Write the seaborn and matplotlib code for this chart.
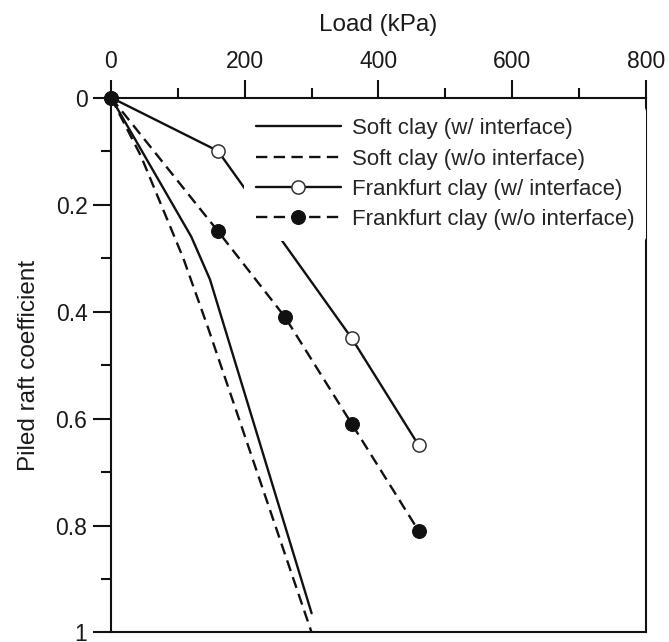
import matplotlib
matplotlib.use("Agg")
import matplotlib.pyplot as plt
import seaborn as sns
import pandas as pd

# ---- data ----
soft_w_load = [0, 120, 148, 300]
soft_w_coef = [0, 0.26, 0.34, 0.964]

soft_wo_load = [0, 45, 108, 145, 300]
soft_wo_coef = [0, 0.11, 0.30, 0.43, 1.0]

frank_w_load = [0, 160, 360, 460]
frank_w_coef = [0, 0.10, 0.45, 0.65]

frank_wo_load = [0, 160, 260, 360, 460]
frank_wo_coef = [0, 0.25, 0.41, 0.61, 0.81]

labels = ["Soft clay (w/ interface)", "Soft clay (w/o interface)",
          "Frankfurt clay (w/ interface)", "Frankfurt clay (w/o interface)"]

x_ticks = [0, 200, 400, 600, 800]
y_ticks = [0, 0.2, 0.4, 0.6, 0.8, 1]
y_tick_labels = ["0", "0.2", "0.4", "0.6", "0.8", "1"]

# ---- style ----
sns.set_style("ticks")
plt.rcParams["font.family"] = ["Liberation Sans", "DejaVu Sans"]

fig = plt.figure(figsize=(6.69, 6.42), dpi=100)
ax = fig.add_axes([0.1659, 0.0148, 0.7997, 0.8333])

LW = 1.7
DASH = (0, (4.8, 2.7))
INK = "#111111"

sns.lineplot(x=soft_w_load, y=soft_w_coef, ax=ax, color=INK, lw=LW,
             sort=False, estimator=None, label=labels[0])
sns.lineplot(x=soft_wo_load, y=soft_wo_coef, ax=ax, color=INK, lw=LW,
             linestyle=DASH, sort=False, estimator=None, label=labels[1])
sns.lineplot(x=frank_w_load, y=frank_w_coef, ax=ax, color=INK, lw=LW,
             marker="o", markersize=9.5, markerfacecolor="white",
             markeredgecolor="#333333", markeredgewidth=1.1,
             sort=False, estimator=None, label=labels[2], clip_on=False)
sns.lineplot(x=frank_wo_load, y=frank_wo_coef, ax=ax, color=INK, lw=LW,
             linestyle=DASH, marker="o", markersize=10, markerfacecolor=INK,
             markeredgecolor=INK, sort=False, estimator=None,
             label=labels[3], clip_on=False)

for ln in ax.get_lines():
    ln.set_dash_capstyle("butt")
    ln.set_clip_on(False)

ax.set_xlim(0, 800)
ax.set_ylim(1, 0)
ax.xaxis.tick_top()
ax.xaxis.set_label_position("top")
ax.set_xticks(x_ticks)
ax.set_xticks([100, 300, 500, 700], minor=True)
ax.set_yticks(y_ticks)
ax.set_yticklabels(y_tick_labels)
ax.set_yticks([0.1, 0.3, 0.5, 0.7, 0.9], minor=True)

ax.tick_params(which="major", length=13, width=1.5, labelsize=16.5,
               color=INK, labelcolor="#1a1a1a", pad=4)
ax.tick_params(which="minor", length=7, width=1.5, color=INK)
ax.tick_params(axis="x", which="both", top=True, bottom=False, pad=5)
ax.tick_params(axis="y", which="both", left=True, right=False)

for s in ax.spines.values():
    s.set_visible(True)
    s.set_linewidth(1.5)
    s.set_color(INK)

ax.set_xlabel("Load (kPa)", fontsize=17.5, labelpad=13, color="#1a1a1a")
ax.set_ylabel("Piled raft coefficient", fontsize=17.5, labelpad=11, color="#1a1a1a")

leg = ax.legend(loc="upper right", bbox_to_anchor=(1.0, 0.982), fontsize=16,
                frameon=True, facecolor="white", edgecolor="none", framealpha=1,
                handlelength=3.85, handletextpad=0.5, labelspacing=0.42,
                borderpad=0.5, borderaxespad=0.0)
leg.set_zorder(5)

fig.savefig("out.png", dpi=100)
